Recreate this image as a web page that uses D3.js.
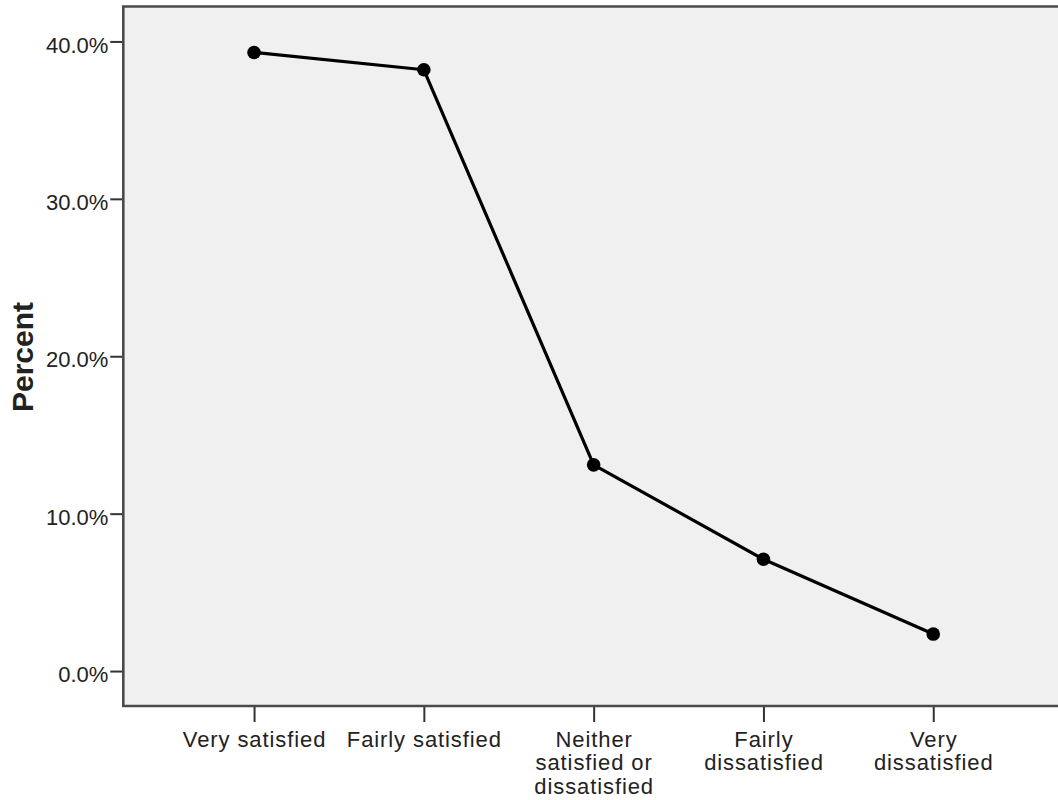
<!DOCTYPE html>
<html>
<head>
<meta charset="utf-8">
<script src="https://cdn.jsdelivr.net/npm/d3@7"></script>
<style>
  html, body { margin: 0; padding: 0; background: #ffffff; }
  svg { display: block; }
  text { font-family: "Liberation Sans", Arial, sans-serif; fill: #222; }
</style>
</head>
<body>
<svg id="chart" width="1058" height="800"></svg>
<script>
// ---- data ----
const categories = [
  ["Very satisfied"],
  ["Fairly satisfied"],
  ["Neither", "satisfied or", "dissatisfied"],
  ["Fairly", "dissatisfied"],
  ["Very", "dissatisfied"]
];
const categoryKeys = ["Very satisfied", "Fairly satisfied", "Neither satisfied or dissatisfied", "Fairly dissatisfied", "Very dissatisfied"];
const percentValues = [39.3, 38.2, 13.1, 7.1, 2.35];
const yTickValues = [0, 10, 20, 30, 40];
const yAxisTitle = "Percent";

// ---- layout ----
const svg = d3.select("#chart");
const plot = { left: 123.3, right: 1064, top: 6.5, bottom: 706 };

const x = d3.scalePoint()
  .domain(categoryKeys)
  .range([plot.left, plot.right])
  .padding(0.77);

const y = d3.scaleLinear()
  .domain([-2.22, 42.22])
  .range([plot.bottom, plot.top]);

// plot background
svg.append("rect")
  .attr("x", plot.left).attr("y", plot.top)
  .attr("width", plot.right - plot.left)
  .attr("height", plot.bottom - plot.top)
  .attr("fill", "#f0f0f0");

// y axis
const yAxis = svg.append("g")
  .attr("transform", `translate(${plot.left},0)`)
  .call(d3.axisLeft(y).tickValues(yTickValues)
    .tickFormat(d => d3.format(".1f")(d) + "%")
    .tickSize(13).tickPadding(2));
yAxis.select(".domain").remove();
yAxis.selectAll(".tick line").attr("stroke", "#333").attr("stroke-width", 2);
yAxis.selectAll(".tick text")
  .attr("font-size", 22)
  .attr("font-family", "'Liberation Sans', Arial, sans-serif")
  .attr("fill", "#222")
  .attr("dy", "0.48em");

// x axis
const xAxis = svg.append("g")
  .attr("transform", `translate(0,${plot.bottom})`)
  .call(d3.axisBottom(x).tickSize(16).tickFormat(""));
xAxis.select(".domain").remove();
xAxis.selectAll(".tick line").attr("stroke", "#333").attr("stroke-width", 2);
xAxis.selectAll(".tick").each(function(d, i) {
  const t = d3.select(this).append("text")
    .attr("text-anchor", "middle")
    .attr("font-size", 22)
    .attr("letter-spacing", "0.9px")
    .attr("fill", "#222");
  categories[i].forEach((line, j) => {
    t.append("tspan")
      .attr("x", 0)
      .attr("y", 40.7 + j * 23.7)
      .text(line);
  });
});

// frame
svg.append("path")
  .attr("d", `M${plot.right},${plot.top}H${plot.left}V${plot.bottom}H${plot.right}`)
  .attr("fill", "none")
  .attr("stroke", "#4a4a4a")
  .attr("stroke-width", 2.6);

// y title
svg.append("text")
  .attr("transform", `translate(33,357) rotate(-90)`)
  .attr("text-anchor", "middle")
  .attr("font-size", 30)
  .attr("font-weight", "bold")
  .attr("fill", "#000")
  .text(yAxisTitle);

// line
const line = d3.line()
  .x((d, i) => x(categoryKeys[i]))
  .y(d => y(d));

svg.append("path")
  .datum(percentValues)
  .attr("d", line)
  .attr("fill", "none")
  .attr("stroke", "#000")
  .attr("stroke-width", 3.2)
  .attr("stroke-linejoin", "round");

svg.selectAll("circle.pt")
  .data(percentValues)
  .join("circle")
  .attr("class", "pt")
  .attr("cx", (d, i) => x(categoryKeys[i]))
  .attr("cy", d => y(d))
  .attr("r", 6.8)
  .attr("fill", "#000");
</script>
</body>
</html>
